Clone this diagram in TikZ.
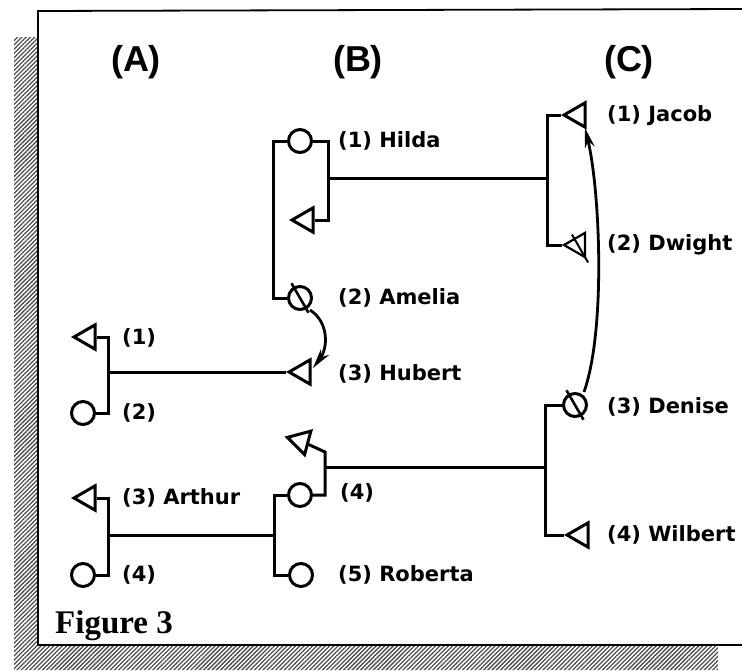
\documentclass[tikz,border=0pt]{standalone}
\usepackage{fontspec}
\setmainfont{DejaVu Sans}
\newfontfamily\lblfont{DejaVu Sans}
\newfontfamily\headfont{Liberation Sans}
\newfontfamily\figfont{Liberation Serif}
\usetikzlibrary{shapes.geometric,arrows.meta,patterns.meta}
\begin{document}
\begin{tikzpicture}[x=1pt,y=-1pt,
  conn/.style={line width=3pt, line join=miter},
  fem/.style={circle, draw, line width=3pt, minimum size=23pt, inner sep=0pt},
  male/.style={regular polygon, regular polygon sides=3, shape border rotate=90, draw, line width=3pt, minimum size=28pt, inner sep=0pt},
  lbl/.style={anchor=west, inner sep=0pt, font=\lblfont\bfseries\fontsize{21}{24}\selectfont},
  head/.style={inner sep=0pt, font=\headfont\bfseries\fontsize{36}{40}\selectfont},
  slashl/.style={line width=2.6pt, shorten <=-4pt, shorten >=-4pt},
  arr/.style={line width=2.8pt, -{Stealth[length=20pt,width=10pt]}}
]
\useasboundingbox (0,0) rectangle (742,670);
% shadow and frame
\fill[pattern={Lines[angle=45,distance=3pt,line width=1.3pt]}, pattern color=black!70]
  (14,37) -- (38,37) -- (38,645) -- (718,645) -- (718,670) -- (14,670) -- cycle;
\draw[line width=1.8pt] (742,9) -- (38,11) -- (38,645) -- (742,645);

% headings
\node[head] (hA) at (136,62) {(A)};
\node[head] (hB) at (358,62) {(B)};
\node[head] (hC) at (629,62) {(C)};

% ---- B upper family
\node[fem] (hilda) at (300,141) {};
\node[lbl] (lhilda) at (338,141) {(1) Hilda};
\node[male] (hsp) at (306,220) {};
\node[fem] (amelia) at (300,298) {};
\node[lbl] (lamelia) at (338,298) {(2) Amelia};
\draw[slashl] (amelia.120) -- (amelia.-60);
\coordinate (bA) at (273,141);
\coordinate (bB) at (273,298);
\draw[conn] (hilda) -- (bA) -- (bB) -- (amelia);
\coordinate (hR) at (328,141);
\coordinate (hR2) at (328,220);
\draw[conn] (hilda) -- (hR) -- (hR2) -- (hsp);
\coordinate (hM) at (328,178);
\coordinate (cM) at (547,178);
\draw[conn] (hM) -- (cM);

% ---- C upper family
\node[male] (jacob) at (578,115) {};
\node[lbl] (ljacob) at (607,116) {(1) Jacob};
\node[male, line width=2.2pt] (dwight) at (578,245) {};
\draw[slashl, line width=2pt] (dwight.120) -- (dwight.-60);
\node[lbl] (ldwight) at (607,245) {(2) Dwight};
\coordinate (cT) at (547,115);
\coordinate (cB) at (547,245);
\draw[conn] (jacob) -- (cT) -- (cB) -- (dwight);

% ---- A upper family
\node[male] (a1) at (88,337) {};
\node[lbl] (la1) at (122,338) {(1)};
\node[fem] (a2) at (83,413) {};
\node[lbl] (la2) at (122,413) {(2)};
\coordinate (aT) at (108,337);
\coordinate (aB) at (108,413);
\draw[conn] (a1) -- (aT) -- (aB) -- (a2);
\node[male] (hubert) at (303,372) {};
\node[lbl] (lhubert) at (338,374) {(3) Hubert};
\coordinate (aM) at (108,372);
\draw[conn] (aM) -- (hubert);

% ---- A lower family
\node[male] (arthur) at (88,498) {};
\node[lbl] (larthur) at (122,498) {(3) Arthur};
\node[fem] (a4) at (83,575) {};
\node[lbl] (la4) at (122,575) {(4)};
\coordinate (lT) at (108,498);
\coordinate (lB) at (108,575);
\draw[conn] (arthur) -- (lT) -- (lB) -- (a4);
\coordinate (lM) at (108,535);
\coordinate (rM) at (274,535);
\draw[conn] (lM) -- (rM);

% ---- B lower family
\node[fem] (b4) at (300,495) {};
\node[lbl] (lb4) at (340,493) {(4)};
\node[fem] (roberta) at (301,575) {};
\node[lbl] (lroberta) at (338,575) {(5) Roberta};
\coordinate (rT) at (274,495);
\coordinate (rB) at (274,575);
\draw[conn] (b4) -- (rT) -- (rB) -- (roberta);
\node[male, shape border rotate=75] (bsp) at (301,441) {};
\coordinate (sR) at (325,495);
\coordinate (sK) at (325,452);
\draw[conn] (b4) -- (sR) -- (sK) -- (bsp);
\coordinate (sM) at (325,467);
\coordinate (dM) at (545,467);
\draw[conn] (sM) -- (dM);

% ---- C lower family
\node[fem] (denise) at (575,405) {};
\draw[slashl] (denise.120) -- (denise.-60);
\node[lbl] (ldenise) at (607,407) {(3) Denise};
\node[male] (wilbert) at (581,535) {};
\node[lbl] (lwilbert) at (607,535) {(4) Wilbert};
\coordinate (dT) at (545,405);
\coordinate (dB) at (545,535);
\draw[conn] (denise) -- (dT) -- (dB) -- (wilbert);

% ---- arrows
\coordinate (amS) at (310,310);
\coordinate (amE) at (313,368);
\draw[arr] (amS) .. controls (329,322) and (328,348) .. (amE);
\coordinate (deS) at (584,392);
\coordinate (deE) at (585,128);
\draw[arr] (deS) .. controls (606,330) and (600,190) .. (deE);

% caption
\node[anchor=base west, inner sep=0pt, font=\figfont\bfseries\fontsize{33}{36}\selectfont] (fig) at (55,633) {Figure 3};
\end{tikzpicture}
\end{document}
